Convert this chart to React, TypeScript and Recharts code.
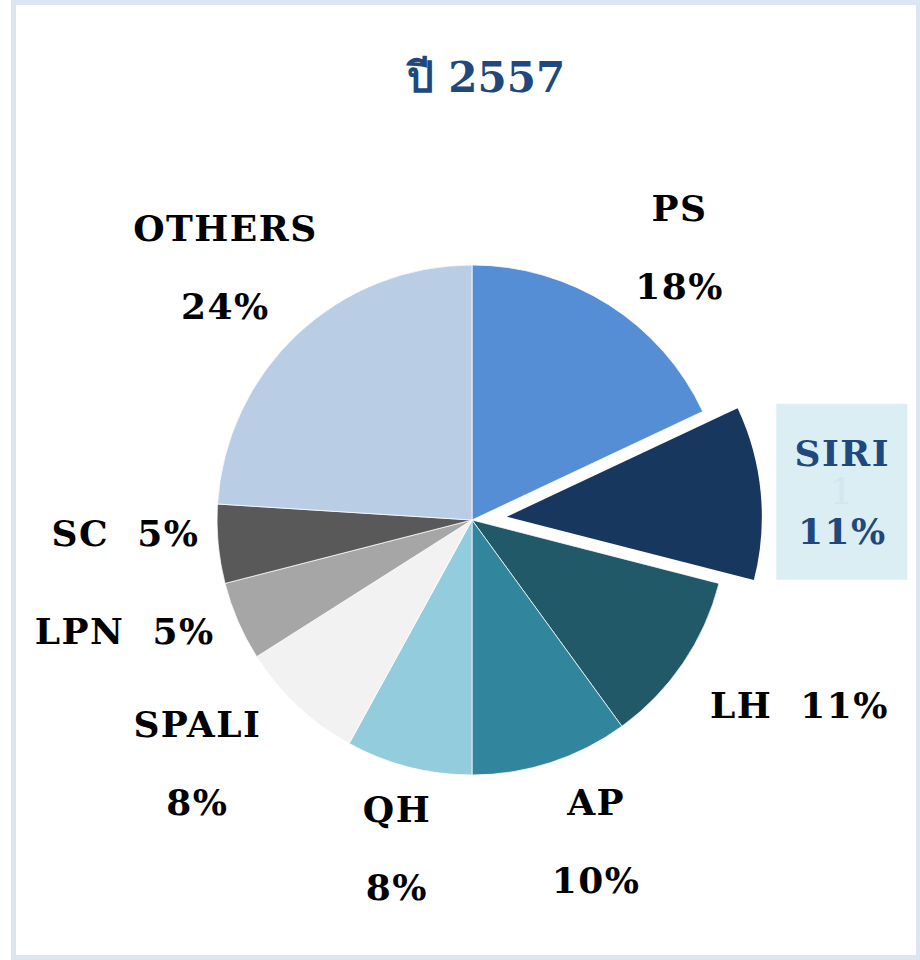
import { Cell, Pie, PieChart } from 'recharts';

// ── Data ───────────────────────────────────────────────────────────────────────

const TITLE = 'ปี 2557';
const NAMES = ['PS', 'SIRI', 'LH', 'AP', 'QH', 'SPALI', 'LPN', 'SC', 'OTHERS'];
const SHARES = [18, 11, 11, 10, 8, 8, 5, 5, 24];
const COLORS = [
  '#558ed5', // PS
  '#17375e', // SIRI
  '#215968', // LH
  '#31859c', // AP
  '#93cddd', // QH
  '#f2f2f2', // SPALI
  '#a6a6a6', // LPN
  '#595959', // SC
  '#b9cde5', // OTHERS
];
const HIGHLIGHT = 'SIRI';
const INLINE_LABELS = ['LH', 'LPN', 'SC'];

// ── Layout ─────────────────────────────────────────────────────────────────────

const W = 920, H = 960;
const CX = 472, CY = 520, R = 255;
const EXPLODE = 35;
const LABEL_R = 350;
const LINE_GAP = 39;
const FONT = "'DejaVu Serif', 'Liberation Serif', serif";
const TEXT_BLUE = '#1f497d';
const RAD = Math.PI / 180;

// small hand nudges so labels sit where the original put them
const NUDGE: Record<string, [number, number]> = {
  PS: [20, 23], SIRI: [-13, 8], LH: [38, -12], AP: [16, -12], QH: [12, -11],
  SPALI: [-35, -12], LPN: [-26, -28], SC: [2, -20], OTHERS: [-7, 2],
};

const pieData = NAMES.map((name, i) => ({ name, value: SHARES[i] }));
const total = SHARES.reduce((a, b) => a + b, 0);
const hiIdx = NAMES.indexOf(HIGHLIGHT);
const hiMid = ((SHARES.slice(0, hiIdx).reduce((a, b) => a + b, 0) + SHARES[hiIdx] / 2) / total) * 360;
const OFF_X = EXPLODE * Math.sin(hiMid * RAD);
const OFF_Y = -EXPLODE * Math.cos(hiMid * RAD);

// ── Labels ─────────────────────────────────────────────────────────────────────

function renderLabel(p: any) {
  const name = NAMES[p.index];
  const isHi = name === HIGHLIGHT;
  const a = -p.midAngle * RAD;
  const [nx, ny] = NUDGE[name] ?? [0, 0];
  const x = CX + (isHi ? OFF_X : 0) + LABEL_R * Math.cos(a) + nx;
  const y = CY + (isHi ? OFF_Y : 0) + LABEL_R * Math.sin(a) + ny;
  const pct = `${Math.round((SHARES[p.index] / total) * 100)}%`;
  const style = { fontFamily: FONT, fontWeight: 700, fontSize: 36, letterSpacing: 1.5 };
  const fill = isHi ? TEXT_BLUE : '#000';

  if (INLINE_LABELS.includes(name)) {
    return (
      <text key={name} x={x} y={y} textAnchor="middle" dominantBaseline="central" fill={fill} style={style}>
        {`${name}\u00a0\u00a0${pct}`}
      </text>
    );
  }
  return (
    <g key={name}>
      {isHi && <rect x={x - 66} y={y - 88} width={131} height={176} fill="#daeef3" />}
      {isHi && (
        <text x={x} y={y} textAnchor="middle" dominantBaseline="central" fill="#d6e3f0" style={{ ...style, fontWeight: 400 }}>
          1
        </text>
      )}
      <text x={x} y={y - LINE_GAP} textAnchor="middle" dominantBaseline="central" fill={fill} style={style}>
        {name}
      </text>
      <text x={x} y={y + LINE_GAP} textAnchor="middle" dominantBaseline="central" fill={fill} style={style}>
        {pct}
      </text>
    </g>
  );
}

// ── Main ───────────────────────────────────────────────────────────────────────

const NO_MARGIN = { top: 0, right: 0, bottom: 0, left: 0 };

export default function App() {
  return (
    <div style={{ position: 'absolute', left: 0, top: 0, width: W, height: H, background: '#fff' }}>
      {/* frame */}
      <div
        style={{
          position: 'absolute', left: 11, top: 0, width: W - 10, height: H,
          border: '5px solid #dce6f2', boxSizing: 'border-box',
        }}
      />
      <div
        style={{
          position: 'absolute', left: 0, top: 52, width: 972, textAlign: 'center',
          fontFamily: FONT, fontWeight: 700, fontSize: 42, color: TEXT_BLUE, lineHeight: '52px',
        }}
      >
        {TITLE}
      </div>
      <div style={{ position: 'absolute', left: 0, top: 0 }}>
        <PieChart width={W} height={H} margin={NO_MARGIN}>
          <Pie
            data={pieData}
            dataKey="value"
            nameKey="name"
            cx={CX}
            cy={CY}
            outerRadius={R}
            startAngle={90}
            endAngle={-270}
            label={renderLabel}
            labelLine={false}
            isAnimationActive={false}
          >
            {pieData.map((d, i) => (
              <Cell
                key={d.name}
                fill={d.name === HIGHLIGHT ? 'transparent' : COLORS[i]}
                stroke={d.name === HIGHLIGHT ? 'none' : '#fff'}
                strokeWidth={0.75}
              />
            ))}
          </Pie>
          {/* exploded slice */}
          <Pie
            data={pieData}
            dataKey="value"
            nameKey="name"
            cx={CX + OFF_X}
            cy={CY + OFF_Y}
            outerRadius={R}
            startAngle={90}
            endAngle={-270}
            labelLine={false}
            isAnimationActive={false}
          >
            {pieData.map((d, i) => (
              <Cell
                key={d.name}
                fill={d.name === HIGHLIGHT ? COLORS[i] : 'transparent'}
                stroke="none"
              />
            ))}
          </Pie>
        </PieChart>
      </div>
    </div>
  );
}
